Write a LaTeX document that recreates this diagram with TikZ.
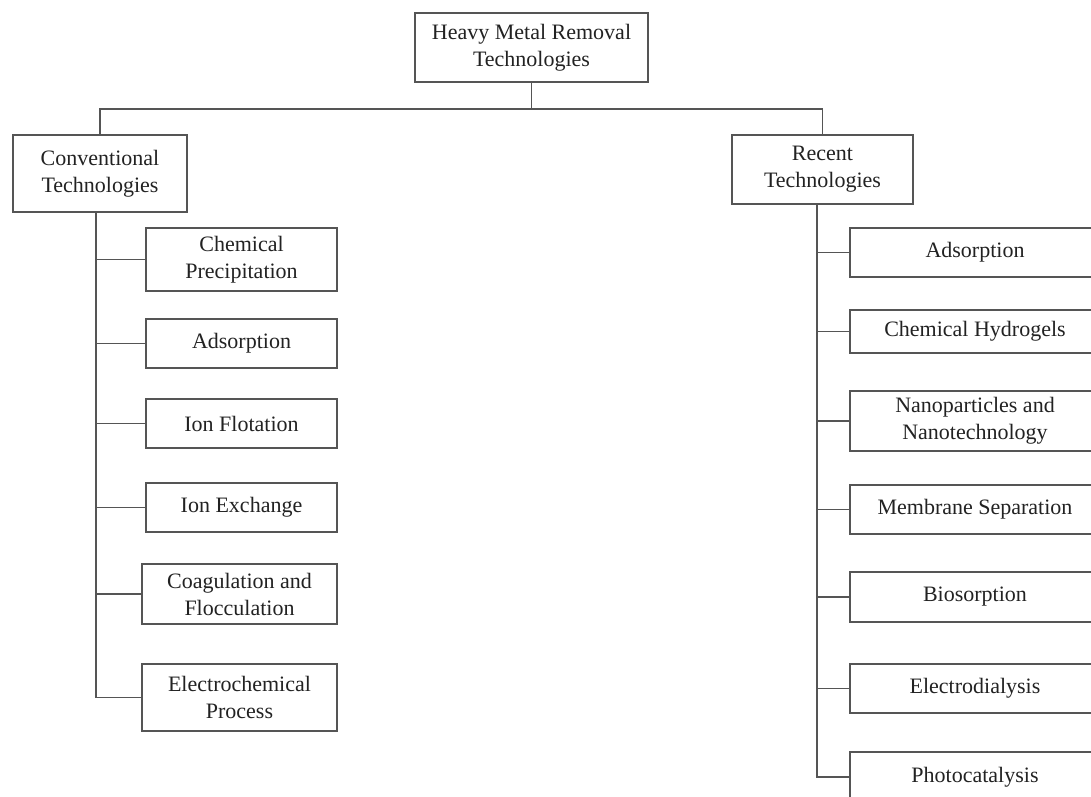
\documentclass[tikz,border=0pt]{standalone}
\usepackage{fontspec}
\setmainfont{Liberation Serif}
\definecolor{linegray}{HTML}{555555}
\definecolor{textgray}{HTML}{222222}
\begin{document}
\begin{tikzpicture}[x=0.75pt,y=-0.75pt,
  box/.style={draw=linegray,line width=1.3pt,rectangle,align=center,inner sep=0pt,
    text=textgray,font=\fontsize{16.5}{20.25}\selectfont},
  conn/.style={draw=linegray,line width=1.3pt},
  lbox/.style={box,minimum width=143.25pt},
  lboxw/.style={box,minimum width=146.25pt},
  rbox/.style={box,minimum width=187.5pt}]
\useasboundingbox (0,0) rectangle (1091,796);
\fill[white] (0,0) rectangle (1091,796);
% top level
\node[box,minimum width=174.75pt,minimum height=51.75pt] (top) at (531.5,47.5) {Heavy Metal Removal\\Technologies};
\node[box,minimum width=130.5pt,minimum height=57.75pt] (conv) at (100,173.5) {Conventional\\Technologies};
\node[box,minimum width=135.75pt,minimum height=51.75pt] (rec) at (822.5,169.5) {Recent\\Technologies};
% left children
\node[lbox,minimum height=47.25pt] (l1) at (241.5,259.5) {Chemical\\Precipitation};
\node[lbox,minimum height=36.75pt] (l2) at (241.5,343.5) {Adsorption};
\node[lbox,minimum height=36.75pt] (l3) at (241.5,423.5) {Ion Flotation};
\node[lbox,minimum height=36.75pt] (l4) at (241.5,507.5) {Ion Exchange};
\node[lboxw,minimum height=45pt] (l5) at (239.5,594) {Coagulation and\\Flocculation};
\node[lboxw,minimum height=50.25pt] (l6) at (239.5,697.5) {Electrochemical\\Process};
% right children
\node[rbox,minimum height=36.75pt] (r1) at (975,252.5) {Adsorption};
\node[rbox,minimum height=32.25pt] (r2) at (975,331.5) {Chemical Hydrogels};
\node[rbox,minimum height=45pt] (r3) at (975,421) {Nanoparticles and\\Nanotechnology};
\node[rbox,minimum height=36.75pt] (r4) at (975,509.5) {Membrane Separation};
\node[rbox,minimum height=37.5pt] (r5) at (975,597) {Biosorption};
\node[rbox,minimum height=36.75pt] (r6) at (975,688.5) {Electrodialysis};
\node[rbox,minimum height=37.5pt] (r7) at (975,777) {Photocatalysis};
% helper coordinates
\coordinate (hy) at (0,109);
\coordinate (lx) at (96,0);
\coordinate (rx) at (817,0);
% top connectors
\draw[conn] (top.south) -- (top.south |- hy);
\draw[conn] (conv.north) -- (conv.north |- hy) -| (rec.north);
% left tree
\draw[conn] (conv.south -| lx) |- (l6.west);
\foreach \n in {l1,l2,l3,l4,l5}{\draw[conn] (lx |- \n.west) -- (\n.west);}
% right tree
\draw[conn] (rec.south -| rx) |- (r7.west);
\foreach \n in {r1,r2,r3,r4,r5,r6}{\draw[conn] (rx |- \n.west) -- (\n.west);}
\end{tikzpicture}
\end{document}
